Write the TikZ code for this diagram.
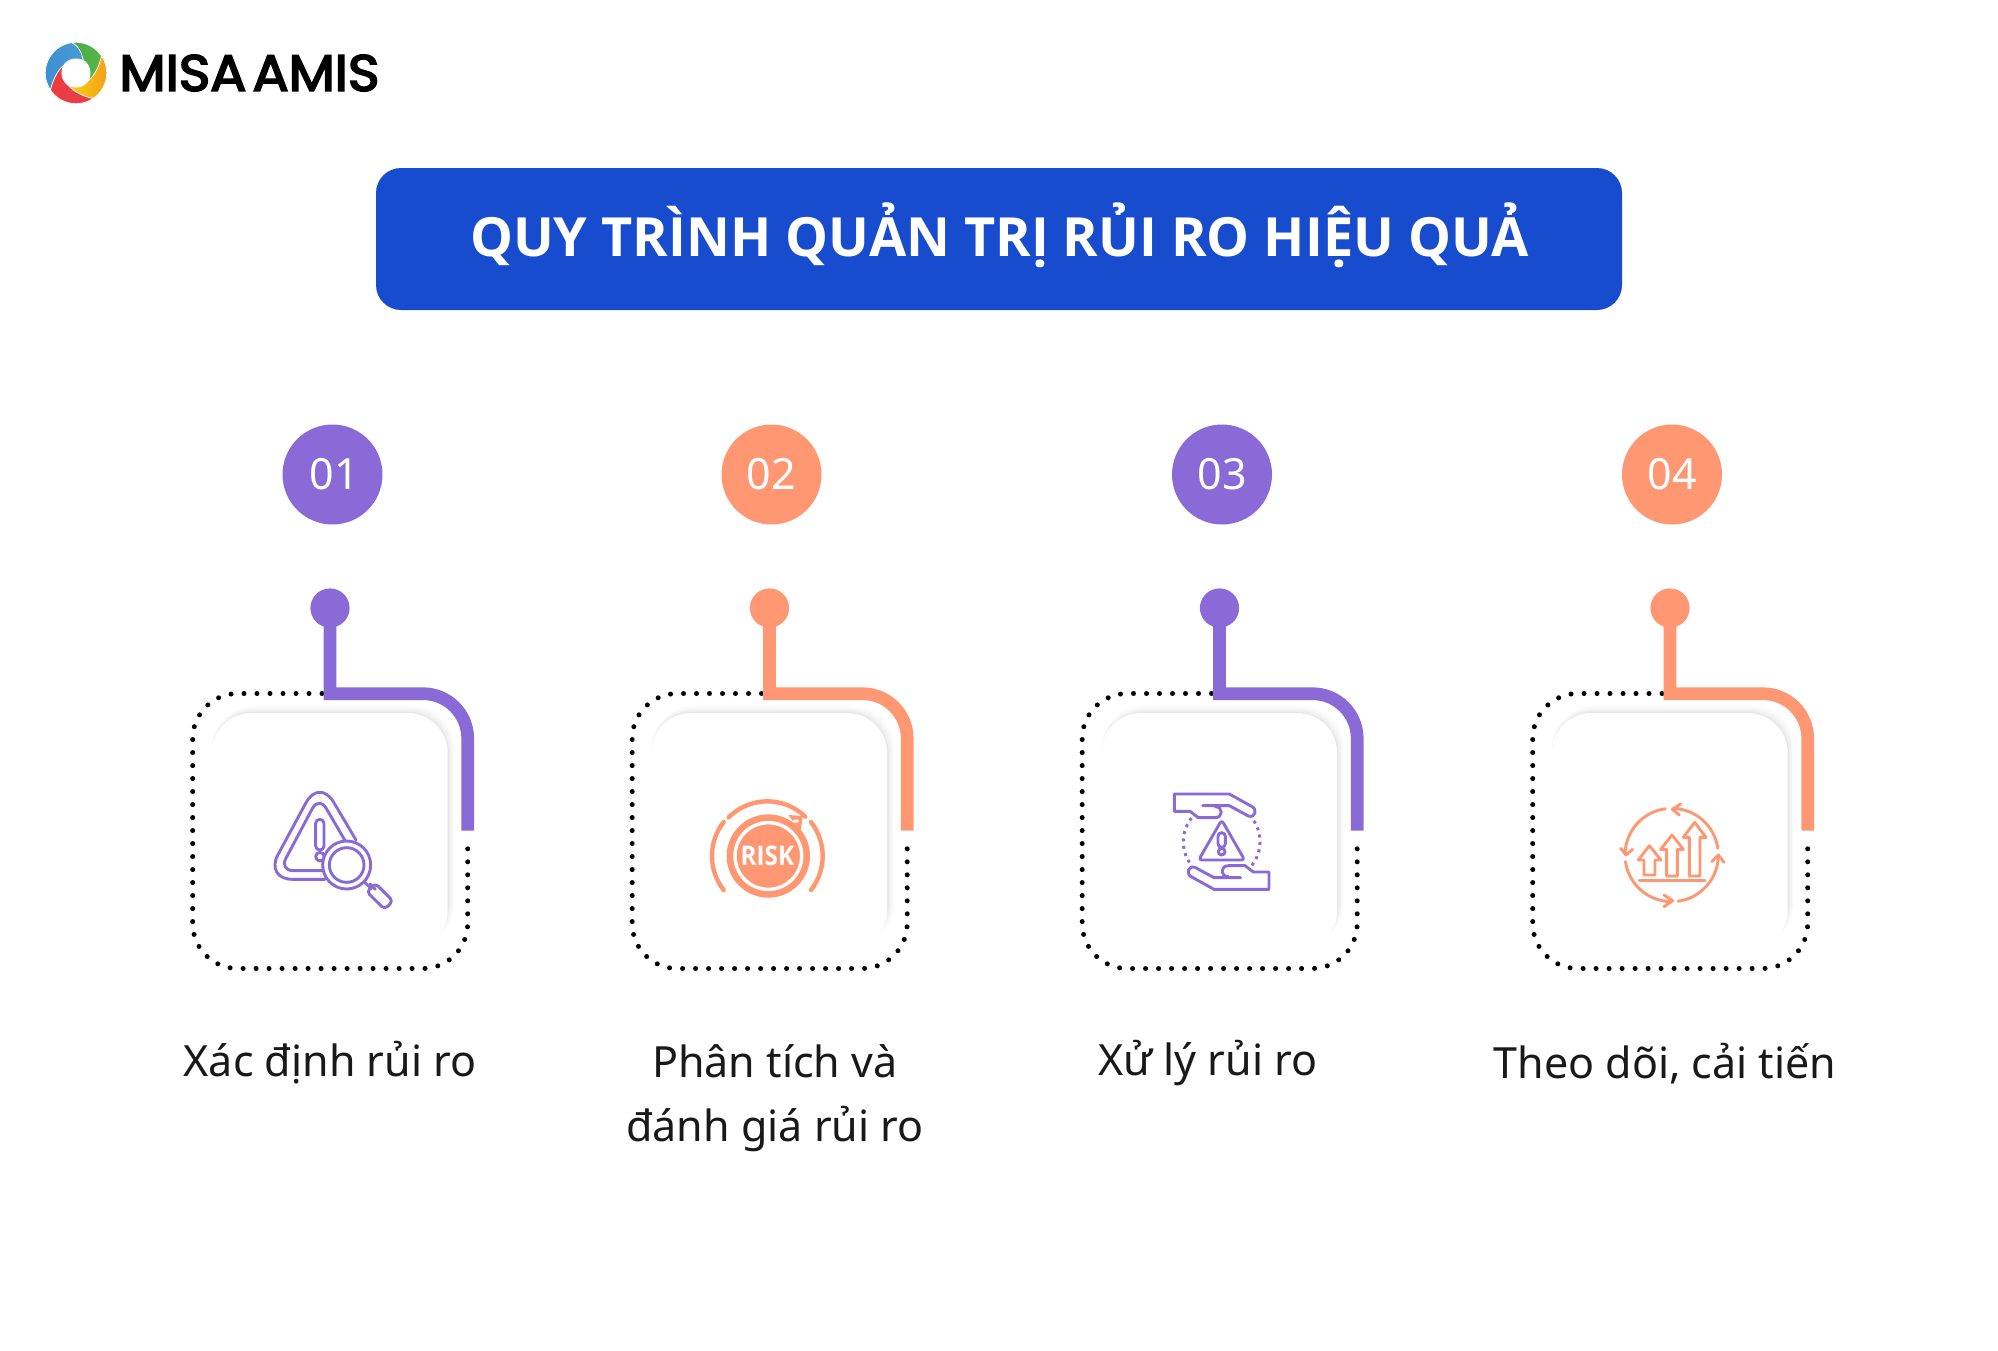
\documentclass[tikz,border=0pt]{standalone}
\usepackage{fontspec}
\setmainfont{Noto Sans}
\newfontfamily\logofont[FakeBold=3.5]{Poppins}
\newfontfamily\heavyfont{Open Sans}
\usetikzlibrary{calc}
\definecolor{purp}{HTML}{8A6AD6}
\definecolor{orng}{HTML}{FF9872}
\definecolor{ttl}{HTML}{174CCF}
\definecolor{gA}{HTML}{3FA648}
\definecolor{gB}{HTML}{5CB848}
\definecolor{yA}{HTML}{F9D20C}
\definecolor{yB}{HTML}{F39A1C}
\definecolor{rA}{HTML}{EE3B3F}
\definecolor{rB}{HTML}{E53E4B}
\definecolor{bA}{HTML}{3C8FD0}
\definecolor{bB}{HTML}{4A9AD2}
\tikzset{
  numdot/.style={circle,fill=#1,text=white,minimum size=50pt,inner sep=0pt,font=\fontsize{21.5}{24}\selectfont},
  pin/.style={circle,fill=#1,minimum size=19.6pt,inner sep=0pt},
  stem/.style={draw=#1,line width=6.35pt,miter limit=10},
  dotbox/.style={line width=2.5pt,line cap=round,dash pattern=on 0pt off 6.5pt},
  lbl/.style={font=\fontsize{21.5}{32}\selectfont,align=center,text=black!90},
  iconline/.style={draw=#1,line width=1.45pt,line cap=round,line join=round},
  zoomed/.style={shift={(#1)},x=0.16667pt,y=-0.16667pt},
}
\newcommand{\stepgroup}[3]{%
  \begin{scope}[xshift=#2*0.5pt]
    \foreach \k/\o in {7/.012,5.5/.016,4/.02,2.5/.025,1.2/.03}
      \fill[black,opacity=\o,rounded corners=21pt] (212,-945) rectangle (447.7+\k,-713+\k);
    \fill[white,rounded corners=20pt] (211.7,-950) rectangle (447.7,-713);
    \coordinate (dotA#1) at (322,-693.5);
    \coordinate (dotB#1) at (467.7,-836);
    \draw[dotbox] (dotA#1) -- (237.7,-693.5) arc (90:180:45) -- (192.7,-923.5) arc (180:270:45) -- (422.7,-968.5) arc (270:360:45) -- (dotB#1);
    \node[pin=#3] (pin#1) at (330,-608) {};
    \coordinate (stemEnd#1) at (467.7,-830.7);
    \draw[stem=#3] (pin#1.center) -- (330,-693.7) -- (423,-693.7) arc (90:0:44.7) -- (stemEnd#1);
  \end{scope}
}
\begin{document}
\begin{tikzpicture}[x=0.5pt,y=0.5pt]
\useasboundingbox (0,0) rectangle (1998,-1350);
\fill[white] (0,0) rectangle (1998,-1350);

% logo
\begin{scope}[shift={(76,-73)}]
  \foreach \r/\ca/\cb in {0/gA/gB,-90/yA/yB,-180/rA/rB,-270/bA/bB}{
    \begin{scope}[rotate=\r]
      \fill[left color=\ca,right color=\cb,draw=white,line width=.4pt]
        (123.7:30.7) arc (123.7:8:30.7) .. controls (28,-2) and (20,-6) .. (12.3,-7.3)
        .. controls (16,0) and (14,8) .. (7.3,12.7) .. controls (3,18) and (-6,23) .. (123.7:30.7) -- cycle;
    \end{scope}
  }
\end{scope}
\node[inner sep=0pt,anchor=center,xscale=1.05,font=\logofont\fontsize{25.5}{30}\selectfont] (logo) at (249.5,-73) {MISA\kern 3pt AMIS};

% title
\node[fill=ttl,rounded corners=12.5pt,minimum width=623pt,minimum height=71pt,inner sep=0pt] (titlebox) at (999,-239) {};
\node[text=white,font=\heavyfont\bfseries\fontsize{27}{34}\selectfont,inner sep=0pt] (title) at (999.5,-235.5) {QUY TRÌNH QUẢN TRỊ RỦI RO HIỆU QUẢ};

% steps
\stepgroup{1}{0}{purp}
\stepgroup{2}{439.5}{orng}
\stepgroup{3}{889.5}{purp}
\stepgroup{4}{1340}{orng}

\node[numdot=purp] (n1) at (332.5,-474.5) {\kern 2pt 01};
\node[numdot=orng] (n2) at (771.5,-474.5) {02};
\node[numdot=purp] (n3) at (1222,-474.5) {03};
\node[numdot=orng] (n4) at (1672,-474.5) {04};

\node[lbl] (l1) at (330,-1062.5) {Xác định rủi ro};
\node[lbl] (l2) at (775,-1098.5) {Phân tích và\\đánh giá rủi ro};
\node[lbl] (l3) at (1208,-1062.5) {Xử lý rủi ro};
\node[lbl] (l4) at (1665,-1064) {Theo dõi, cải tiến};

% icon 1
\begin{scope}[zoomed={250,-780}]
  \draw[iconline=purp,rounded corners=14pt] (318,180) -- (208,-6) -- (44,298) -- (225,298);
  \draw[iconline=purp,rounded corners=7pt] (290,190) -- (207,48) -- (88,272) -- (222,272);
  \draw[iconline=purp,rounded corners=2pt] (197,118) rectangle (222,210);
  \draw[iconline=purp] (210,230) circle (13);
  \draw[iconline=purp,fill=white] (290,255) circle (72);
  \draw[iconline=purp] (290,255) circle (52);
  \draw[iconline=purp] (345,308) -- (363,326);
  \draw[iconline=purp] (360,312) -- (376,328);
  \draw[iconline=purp,rounded corners=2pt] (376,310) -- (429,363) -- (404,388) -- (350,335) -- cycle;
\end{scope}

% icon 2
\begin{scope}[zoomed={680,-770}]
  \fill[orng] (265,258) circle (125);
  \fill[orng] (325,135) -- (368,138) -- (362,185) -- cycle;
  \fill[white] (348,153) ellipse (9 and 5);
  \draw[white,line width=1.7pt] (265,258) circle (100);
  \foreach \a/\b/\rr in {46/135/164,142/218/166,-38/38/166}{
    \draw[orng,line width=2.2pt,line cap=round] plot[domain=\a:\b,samples=30] ({262+\rr*cos(\x)},{258-\rr*sin(\x)});
  }
  \node[text=white,inner sep=0pt,xscale=.9,font=\heavyfont\bfseries\fontsize{13.5}{14}\selectfont] (risk) at (262,258) {RISK};
\end{scope}

% icon 3
\begin{scope}[zoomed={1140,-770}]
  \foreach \rot in {0,180}{
    \begin{scope}[rotate around={\rot:(245,215)}]
      \draw[iconline=purp] (188,107) -- (268,107) -- (325,138) .. controls (345,145) and (355,118) .. (333,108) -- (268,72) -- (103,72) -- (103,124) -- (150,124) -- (175,143) -- (225,143) .. controls (250,143) and (250,110) .. (225,110);
    \end{scope}
  }
  \draw[iconline=purp,rounded corners=1.6pt] (245,150) -- (176,270) -- (314,270) -- cycle;
  \draw[iconline=purp,rounded corners=1.8pt] (234,188) rectangle (256,232);
  \draw[iconline=purp] (245,245) circle (10);
  \draw[purp,line width=1.5pt,dash pattern=on 1.5pt off 2.2pt] plot[domain=-38:38,samples=30] ({245+115*cos(\x)},{215-115*sin(\x)});
  \draw[purp,line width=1.5pt,dash pattern=on 1.5pt off 2.2pt] plot[domain=142:218,samples=30] ({245+115*cos(\x)},{215-115*sin(\x)});
\end{scope}

% icon 4
\begin{scope}[zoomed={1590,-780}]
  \foreach \a/\b in {8/88,98/178,188/268,278/358}{
    \draw[iconline=orng] plot[domain=\a:\b,samples=30] ({245+140*cos(\x)},{225-140*sin(\x)});
  }
  \draw[iconline=orng] (272,72) -- (247,88) -- (268,105);
  \draw[iconline=orng] (92,205) -- (108,225) -- (128,208);
  \draw[iconline=orng] (222,345) -- (248,362) -- (222,380);
  \draw[iconline=orng] (365,245) -- (385,225) -- (402,247);
  \draw[iconline=orng] (162,285) -- (162,240) -- (145,240) -- (178,197) -- (213,240) -- (195,240) -- (195,285) -- cycle;
  \draw[iconline=orng] (230,288) -- (230,208) -- (212,208) -- (246,165) -- (280,208) -- (262,208) -- (262,288) -- cycle;
  \draw[iconline=orng] (298,288) -- (298,172) -- (280,172) -- (314,127) -- (348,172) -- (330,172) -- (330,288) -- cycle;
  \draw[iconline=orng] (148,302) -- (345,302);
\end{scope}
\end{tikzpicture}
\end{document}
